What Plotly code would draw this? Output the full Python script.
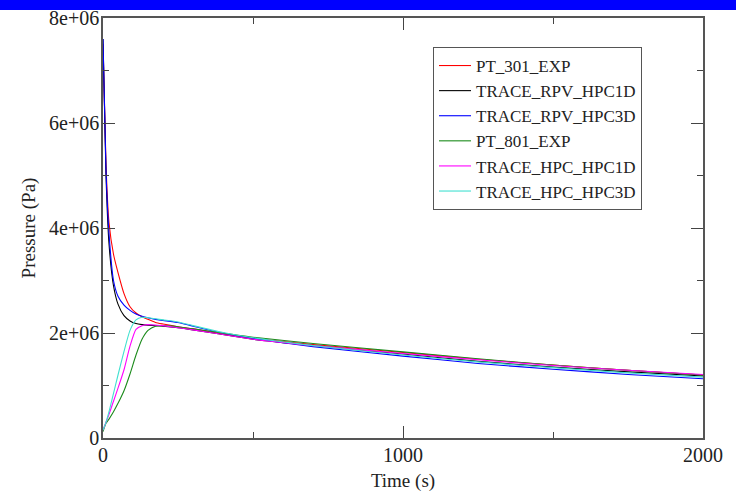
import plotly.graph_objects as go

# Sample times (s)
time_s = [0, 10, 20, 35, 50, 70, 90, 110, 130, 150, 175, 200, 250, 300,
          400, 500, 700, 1000, 1250, 1500, 1750, 2000]

# Pressure histories (Pa)
pt_301_exp = [7.5e6, 5.2e6, 4.1e6, 3.5e6, 3.15e6, 2.75e6, 2.5e6, 2.38e6, 2.31e6, 2.26e6,
              2.2e6, 2.17e6, 2.12e6, 2.08e6, 1.98e6, 1.9e6, 1.78e6, 1.63e6, 1.5e6,
              1.39e6, 1.29e6, 1.2e6]
trace_rpv_hpc1d = [7.6e6, 5.0e6, 3.7e6, 2.9e6, 2.55e6, 2.33e6, 2.23e6, 2.18e6, 2.16e6, 2.15e6,
                   2.14e6, 2.13e6, 2.1e6, 2.06e6, 1.97e6, 1.88e6, 1.76e6, 1.6e6, 1.46e6,
                   1.35e6, 1.26e6, 1.18e6]
trace_rpv_hpc3d = [7.6e6, 5.1e6, 3.9e6, 3.0e6, 2.7e6, 2.53e6, 2.43e6, 2.36e6, 2.32e6, 2.29e6,
                   2.26e6, 2.24e6, 2.2e6, 2.13e6, 2.0e6, 1.9e6, 1.74e6, 1.56e6, 1.42e6,
                   1.31e6, 1.21e6, 1.13e6]
pt_801_exp = [0.12e6, 0.28e6, 0.36e6, 0.5e6, 0.66e6, 0.9e6, 1.22e6, 1.58e6, 1.88e6, 2.05e6,
              2.13e6, 2.14e6, 2.12e6, 2.08e6, 2.0e6, 1.92e6, 1.8e6, 1.64e6, 1.51e6,
              1.39e6, 1.29e6, 1.2e6]
trace_hpc_hpc1d = [0.15e6, 0.3e6, 0.45e6, 0.7e6, 0.95e6, 1.3e6, 1.75e6, 2.07e6, 2.14e6, 2.16e6,
                   2.15e6, 2.14e6, 2.1e6, 2.06e6, 1.97e6, 1.88e6, 1.76e6, 1.61e6, 1.49e6,
                   1.38e6, 1.29e6, 1.21e6]
trace_hpc_hpc3d = [0.15e6, 0.3e6, 0.5e6, 0.85e6, 1.2e6, 1.65e6, 2.05e6, 2.25e6, 2.3e6, 2.29e6,
                   2.27e6, 2.25e6, 2.21e6, 2.14e6, 2.01e6, 1.91e6, 1.76e6, 1.58e6, 1.45e6,
                   1.34e6, 1.24e6, 1.16e6]

series_names = ["PT_301_EXP", "TRACE_RPV_HPC1D", "TRACE_RPV_HPC3D",
                "PT_801_EXP", "TRACE_HPC_HPC1D", "TRACE_HPC_HPC3D"]
series_values = [pt_301_exp, trace_rpv_hpc1d, trace_rpv_hpc3d,
                 pt_801_exp, trace_hpc_hpc1d, trace_hpc_hpc3d]
series_colors = ["#ff0000", "#000000", "#0000ff", "#1a8a1a", "#ff00ff", "#40e0d0"]

y_tickvals = [0, 2e6, 4e6, 6e6, 8e6]
y_ticktext = ["0", "2e+06", "4e+06", "6e+06", "8e+06"]
x_tickvals = [0, 1000, 2000]
x_ticktext = ["0", "1000", "2000"]

FONT = "Liberation Serif"
INK = "#222222"

fig = go.Figure()
for name, vals, col in zip(series_names, series_values, series_colors):
    fig.add_trace(go.Scatter(x=time_s, y=vals, mode="lines", name=name,
                             line=dict(color=col, width=1.1, shape="spline", smoothing=0.6)))

axis_common = dict(
    showgrid=False, zeroline=False, showline=True, linecolor="#555555", linewidth=1.5,
    mirror="ticks", ticks="inside", ticklen=12, tickcolor="#444444", tickwidth=1,
    tickfont=dict(family=FONT, size=20, color=INK), automargin=False,
)

fig.update_xaxes(
    range=[0, 2000], tickvals=x_tickvals, ticktext=x_ticktext,
    minor=dict(ticks="inside", ticklen=6, dtick=500, tickcolor="#444444"),
    title=dict(text="Time (s)", font=dict(family=FONT, size=19, color=INK), standoff=12),
    ticklabelstandoff=-2,
    **axis_common,
)
fig.update_yaxes(
    range=[0, 8e6], tickvals=y_tickvals, ticktext=y_ticktext,
    minor=dict(ticks="inside", ticklen=6, dtick=1e6, tickcolor="#444444"),
    title=dict(text="Pressure (Pa)", font=dict(family=FONT, size=19, color=INK), standoff=8),
    ticklabelstandoff=-2,
    **axis_common,
)

fig.update_layout(
    width=736, height=492,
    margin=dict(l=103, r=33, t=18, b=54),
    plot_bgcolor="white", paper_bgcolor="white",
    font=dict(family=FONT, size=17, color=INK),
    legend=dict(x=0.55, y=0.931, xanchor="left", yanchor="top",
                bgcolor="white", bordercolor="#555555", borderwidth=1,
                font=dict(family=FONT, size=17, color=INK),
                itemwidth=32, tracegroupgap=0),
    shapes=[dict(type="rect", xref="paper", yref="paper",
                 x0=-103 / 600, x1=(736 - 103) / 600,
                 y0=(438 - 10) / 420, y1=(438 + 2) / 420,
                 fillcolor="#0000ff", line=dict(width=0), layer="above")],
)

fig.write_html("out.html")
